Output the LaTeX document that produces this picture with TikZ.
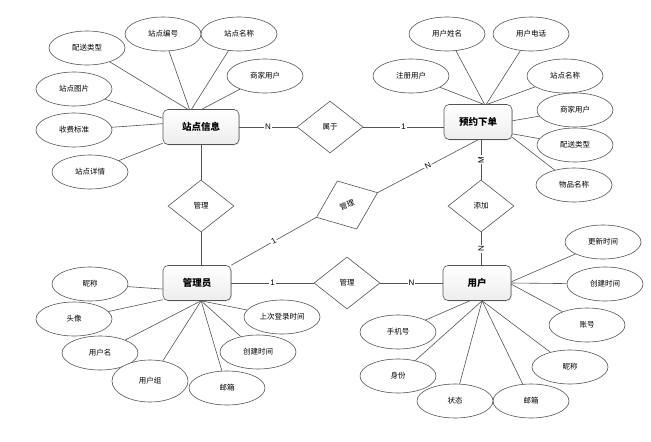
\documentclass[tikz,border=0pt]{standalone}
\usepackage{fontspec}
\setmainfont{Liberation Sans}
\newfontfamily\cjk{Noto Sans CJK SC}
\usetikzlibrary{positioning, shapes.geometric, shadows, calc}

\begin{document}
\begin{tikzpicture}[x=1pt, y=-1pt,
    ent/.style={draw=gray!65!black, line width=0.6pt, rounded corners=5pt,
        minimum width=68pt, minimum height=35pt, top color=white, bottom color=gray!14,
        drop shadow={shadow xshift=0.8pt, shadow yshift=-0.8pt, opacity=0.3},
        font=\cjk\bfseries\fontsize{9.5}{11}\selectfont},
    attr/.style={ellipse, draw=gray!65!black, line width=0.6pt, fill=white,
        minimum width=76pt, minimum height=34pt, inner sep=0pt,
        font=\cjk\fontsize{7.5}{9}\selectfont},
    rel/.style={diamond, draw=gray!65!black, line width=0.6pt, fill=white,
        minimum width=66pt, minimum height=52pt, inner sep=0pt,
        font=\cjk\fontsize{7.5}{9}\selectfont},
    card/.style={fill=white, inner sep=1pt, font=\fontsize{8}{9}\selectfont},
    line/.style={draw=gray!65!black, line width=0.6pt}]
    \useasboundingbox (0,0) rectangle (651,442);

    % entities
    \node[ent, minimum width=76pt] (zd) at (201,127) {站点信息};
    \node[ent] (yy) at (478,122) {预约下单};
    \node[ent] (gly) at (197,283) {管理员};
    \node[ent] (yh) at (477,283) {用户};

    % relationships
    \node[rel] (sy) at (330,127) {属于};
    \node[rel] (gl1) at (201,206) {管理};
    \node[rel, rotate=22] (gl2) at (347,205) {管理};
    \node[rel] (gl3) at (347,283) {管理};
    \node[rel] (tj) at (481,206) {添加};

    % attributes: 站点信息
    \node[attr] (zd1) at (87,48) {配送类型};
    \node[attr] (zd2) at (163,34) {站点编号};
    \node[attr] (zd3) at (239,34) {站点名称};
    \node[attr] (zd4) at (265,76) {商家用户};
    \node[attr] (zd5) at (74,89) {站点图片};
    \node[attr] (zd6) at (74,130) {收费标准};
    \node[attr] (zd7) at (90,172) {站点详情};

    % attributes: 预约下单
    \node[attr] (yy1) at (447,34) {用户姓名};
    \node[attr] (yy2) at (531,34) {用户电话};
    \node[attr] (yy3) at (411,76) {注册用户};
    \node[attr] (yy4) at (565,76) {站点名称};
    \node[attr] (yy5) at (575,110) {商家用户};
    \node[attr] (yy6) at (575,145) {配送类型};
    \node[attr] (yy7) at (574,185) {物品名称};

    % attributes: 管理员
    \node[attr] (gly1) at (90,284) {昵称};
    \node[attr] (gly2) at (74,319) {头像};
    \node[attr] (gly3) at (100,353) {用户名};
    \node[attr, minimum height=42pt] (gly4) at (150,381) {用户组};
    \node[attr] (gly5) at (227,388) {邮箱};
    \node[attr] (gly6) at (258,352) {创建时间};
    \node[attr] (gly7) at (282,317) {上次登录时间};

    % attributes: 用户
    \node[attr] (yh1) at (603,242) {更新时间};
    \node[attr] (yh2) at (605,284) {创建时间};
    \node[attr] (yh3) at (587,325) {账号};
    \node[attr] (yh4) at (570,367) {昵称};
    \node[attr] (yh5) at (531,401) {邮箱};
    \node[attr] (yh6) at (455,401) {状态};
    \node[attr] (yh7) at (398,376) {身份};
    \node[attr] (yh8) at (398,332) {手机号};

    \path[line]
        (zd1) edge (zd.127)
        (zd2) edge (zd.123)
        (zd3) edge (zd.118)
        (zd4) edge (zd.87)
        (zd5) edge (zd.167)
        (zd6) edge (zd.175)
        (zd7) edge (zd.203)
        (yy1) edge (yy.70)
        (yy2) edge (yy.65)
        (yy3) edge (yy.73)
        (yy4) edge (yy.62)
        (yy5) edge (yy.2)
        (yy6) edge (yy.-19)
        (yy7) edge (yy.-24)
        (gly1) edge (gly.190)
        (gly2) edge (gly.206)
        (gly3) edge (gly.283)
        (gly4) edge (gly.283)
        (gly5) edge (gly.283)
        (gly6) edge (gly.283)
        (gly7) edge (gly.283)
        (yh1) edge (yh.2)
        (yh2) edge (yh.0)
        (yh3) edge (yh.-2)
        (yh4) edge (yh.286)
        (yh5) edge (yh.286)
        (yh6) edge (yh.286)
        (yh7) edge (yh.286)
        (yh8) edge (yh.248);

    \path[line]
        (zd.east) edge node[card]{N} (sy.west)
        (sy.east) edge node[card]{1} (sy.east -| yy.west)
        (zd.south) edge (gl1.north)
        (gl1.south) edge (gl1.south |- gly.north)
        (gly.east) edge node[card]{1} (gl3.west)
        (gl3.east) edge node[card]{N} (yh.west)
        (gly.north east) edge node[card, sloped]{1} (gl2.west)
        (gl2.east) edge node[card, sloped]{N} (yy.south)
        (tj.north) edge node[card, rotate=90]{M} (tj.north |- yy.south)
        (tj.south) edge node[card, rotate=90]{N} (tj.south |- yh.north);
\end{tikzpicture}
\end{document}
